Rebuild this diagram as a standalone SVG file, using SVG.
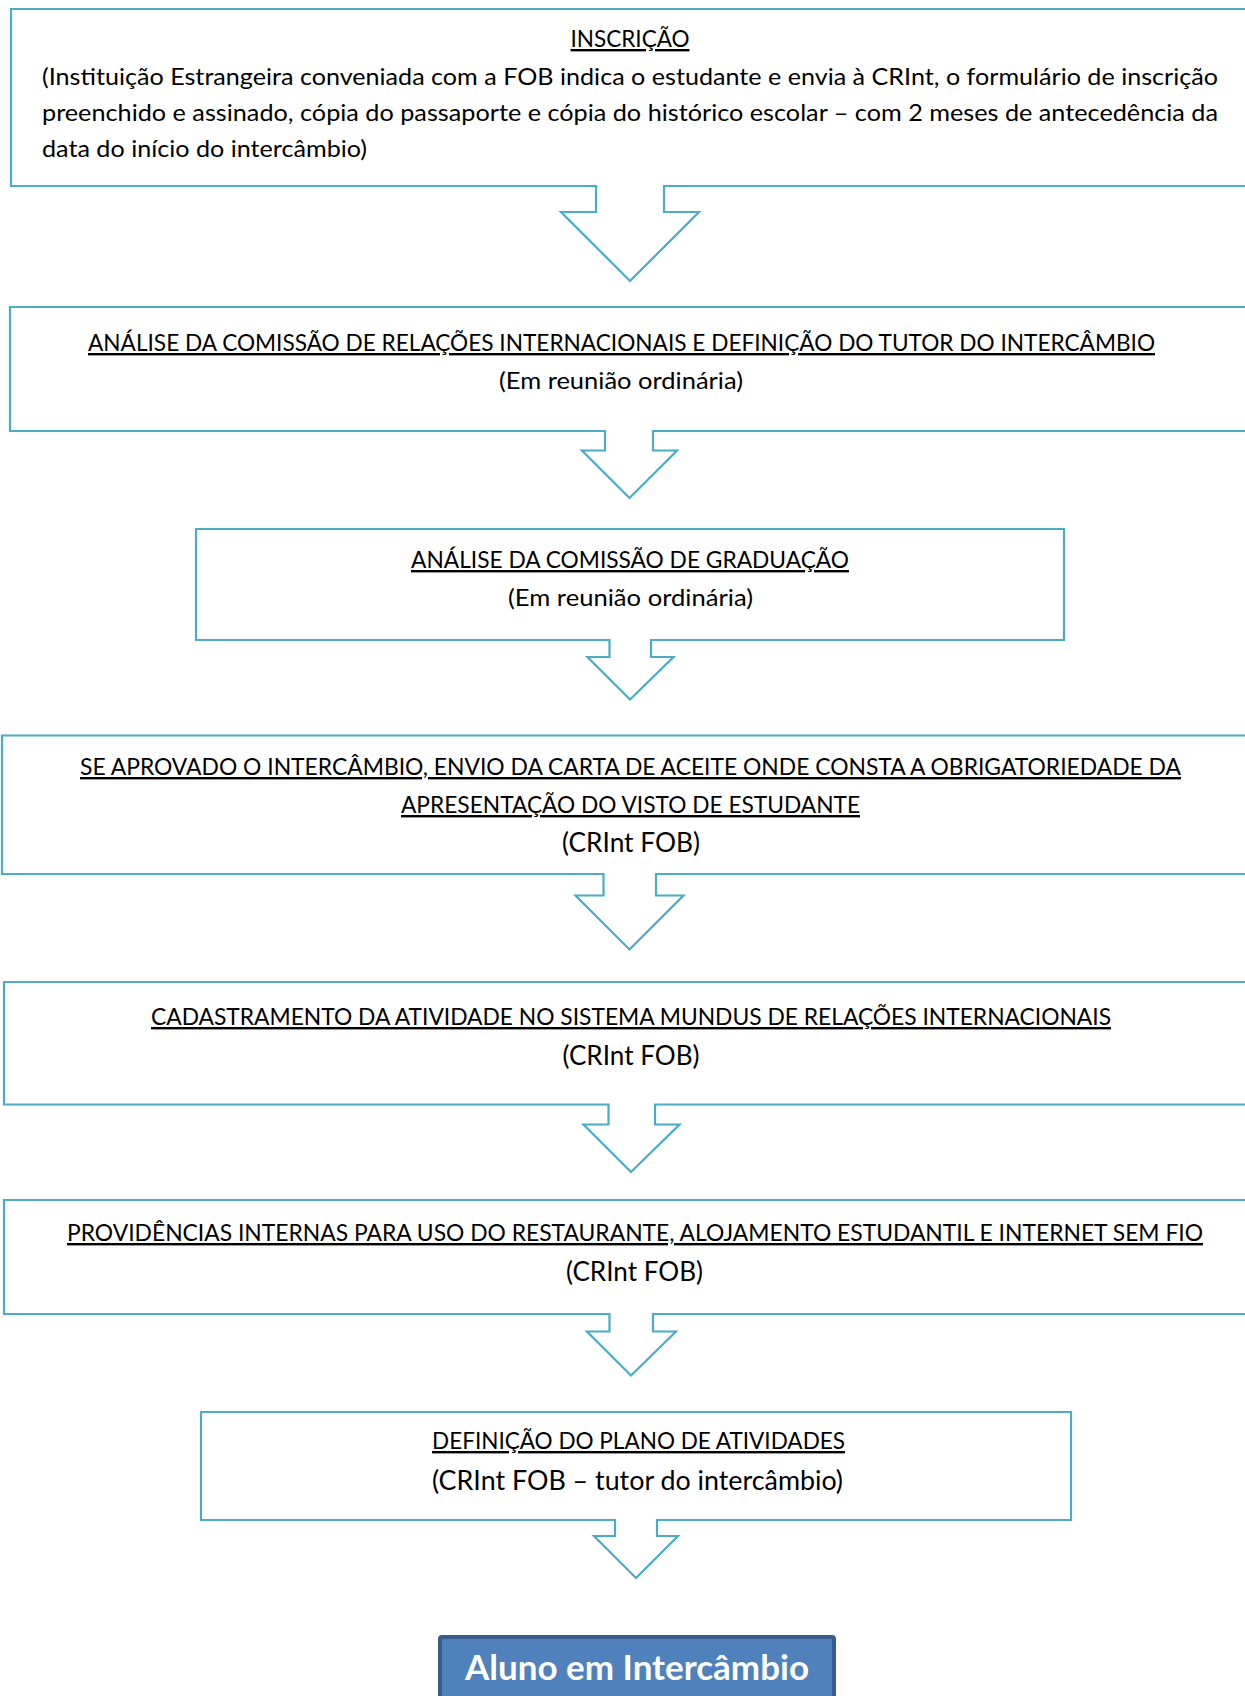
<svg xmlns="http://www.w3.org/2000/svg" width="1245" height="1696" viewBox="0 0 1245 1696">
<style>
.box{fill:#ffffff;stroke:#4BACC6;stroke-width:2.2;stroke-linejoin:miter}
.t{font-family:Lato,"Open Sans","Liberation Sans",sans-serif;font-size:24px;fill:#000}
.u{text-decoration:underline}
.c{text-anchor:middle}
.big{font-size:26.2px}
.final{fill:#4F81BD;stroke:#385D8A;stroke-width:4}
.ft{font-family:Lato,"Open Sans","Liberation Sans",sans-serif;font-size:34px;font-weight:bold;fill:#ffffff;text-anchor:middle}
</style>
<g id="connectors"></g>
<g id="n1">
<polygon class="box" points="11,186 11,9 1252,9 1252,186 664,186 664,212 699,212 630,281 561,212 596,212 596,186"/>
<text class="t c u" x="630" y="47" textLength="119" lengthAdjust="spacingAndGlyphs">INSCRIÇÃO</text>
<text class="t" x="42" y="85" textLength="1176" lengthAdjust="spacingAndGlyphs">(Instituição Estrangeira conveniada com a FOB indica o estudante e envia à CRInt, o formulário de inscrição</text>
<text class="t" x="42" y="121" textLength="1176" lengthAdjust="spacingAndGlyphs">preenchido e assinado, cópia do passaporte e cópia do histórico escolar – com 2 meses de antecedência da</text>
<text class="t" x="42" y="157" textLength="325" lengthAdjust="spacingAndGlyphs">data do início do intercâmbio)</text>
</g>
<g id="n2">
<polygon class="box" points="10,431 10,307 1252,307 1252,431 653,431 653,450.5 677,450.5 629.5,498 582,450.5 605,450.5 605,431"/>
<text class="t c u" x="621.5" y="351" textLength="1067" lengthAdjust="spacingAndGlyphs">ANÁLISE DA COMISSÃO DE RELAÇÕES INTERNACIONAIS E DEFINIÇÃO DO TUTOR DO INTERCÂMBIO</text>
<text class="t c" x="621" y="389" textLength="244" lengthAdjust="spacingAndGlyphs">(Em reunião ordinária)</text>
</g>
<g id="n3">
<polygon class="box" points="196,640 196,529 1064,529 1064,640 651,640 651,657 673.5,657 630,699.5 587.5,657 609.5,657 609.5,640"/>
<text class="t c u" x="630" y="568" textLength="438" lengthAdjust="spacingAndGlyphs">ANÁLISE DA COMISSÃO DE GRADUAÇÃO</text>
<text class="t c" x="630.5" y="606" textLength="245" lengthAdjust="spacingAndGlyphs">(Em reunião ordinária)</text>
</g>
<g id="n4">
<polygon class="box" points="2,874 2,735.5 1252,735.5 1252,874 656,874 656,895.5 683.5,895.5 629.5,949.5 575.5,895.5 603.5,895.5 603.5,874"/>
<text class="t c u" x="630.5" y="775" textLength="1101" lengthAdjust="spacingAndGlyphs">SE APROVADO O INTERCÂMBIO, ENVIO DA CARTA DE ACEITE ONDE CONSTA A OBRIGATORIEDADE DA</text>
<text class="t c u" x="630.5" y="813" textLength="459" lengthAdjust="spacingAndGlyphs">APRESENTAÇÃO DO VISTO DE ESTUDANTE</text>
<text class="t c big" x="631" y="852" textLength="138" lengthAdjust="spacingAndGlyphs">(CRInt FOB)</text>
</g>
<g id="n5">
<polygon class="box" points="4,1104.5 4,982 1252,982 1252,1104.5 655,1104.5 655,1124.5 679.5,1124.5 631,1172 583.5,1124.5 608.5,1124.5 608.5,1104.5"/>
<text class="t c u" x="631" y="1025" textLength="960" lengthAdjust="spacingAndGlyphs">CADASTRAMENTO DA ATIVIDADE NO SISTEMA MUNDUS DE RELAÇÕES INTERNACIONAIS</text>
<text class="t c big" x="631" y="1065" textLength="137" lengthAdjust="spacingAndGlyphs">(CRInt FOB)</text>
</g>
<g id="n6">
<polygon class="box" points="4,1314 4,1200 1252,1200 1252,1314 653,1314 653,1331.5 676,1331.5 631,1375.5 587,1331.5 609.5,1331.5 609.5,1314"/>
<text class="t c u" x="635" y="1241" textLength="1136" lengthAdjust="spacingAndGlyphs">PROVIDÊNCIAS INTERNAS PARA USO DO RESTAURANTE, ALOJAMENTO ESTUDANTIL E INTERNET SEM FIO</text>
<text class="t c big" x="634.5" y="1281" textLength="137" lengthAdjust="spacingAndGlyphs">(CRInt FOB)</text>
</g>
<g id="n7">
<polygon class="box" points="201,1520 201,1412 1071,1412 1071,1520 657,1520 657,1536 678,1536 636,1578 594,1536 615,1536 615,1520"/>
<text class="t c u" x="638.5" y="1449" textLength="413" lengthAdjust="spacingAndGlyphs">DEFINIÇÃO DO PLANO DE ATIVIDADES</text>
<text class="t c big" x="637.5" y="1490" textLength="411" lengthAdjust="spacingAndGlyphs">(CRInt FOB – tutor do intercâmbio)</text>
</g>
<g id="n8">
<rect class="final" x="440" y="1637" width="394" height="75" rx="2"/>
<text class="ft" x="637" y="1680" textLength="344" lengthAdjust="spacingAndGlyphs">Aluno em Intercâmbio</text>
</g>
</svg>
